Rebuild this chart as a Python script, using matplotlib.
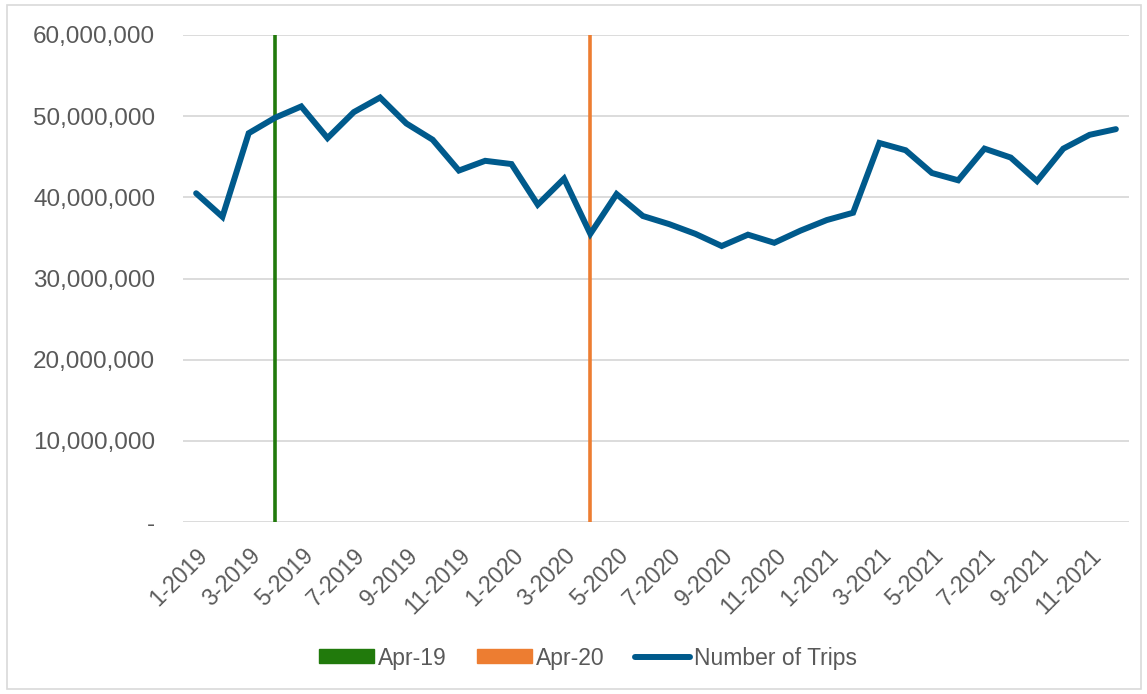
import matplotlib
matplotlib.use('Agg')
import matplotlib.pyplot as plt
import matplotlib.patches as mpatches
from matplotlib.lines import Line2D
from matplotlib.ticker import FuncFormatter

# ── data ──────────────────────────────────────────────────────────────────────
months = [f'{m}-{y}' for y in (2019, 2020, 2021) for m in range(1, 13)]
trips_m = [40.5, 37.6, 47.9, 49.8, 51.2, 47.3, 50.5, 52.3, 49.1, 47.1, 43.3, 44.5,
           44.1, 39.1, 42.3, 35.5, 40.4, 37.7, 36.7, 35.5, 34.0, 35.4, 34.4, 35.9,
           37.2, 38.1, 46.7, 45.8, 43.0, 42.1, 46.0, 44.9, 42.0, 46.0, 47.7, 48.4]
trips = [v * 1e6 for v in trips_m]
marker_months = ['4-2019', '4-2020']
marker_labels = ['Apr-19', 'Apr-20']
marker_colors = ['#217a0c', '#ed7d31']
y_max = 60_000_000

LINE_BLUE = '#005a8c'
TXT = '#595959'
GRID = '#d9d9d9'

plt.rcParams['font.family'] = ['Liberation Sans', 'DejaVu Sans']

# ── draw ──────────────────────────────────────────────────────────────────────
fig = plt.figure(figsize=(11.47, 6.94), dpi=100)
ax = fig.add_axes([183 / 1147, 1 - 522 / 694, (1129 - 183) / 1147, (522 - 35) / 694])

x = list(range(len(months)))
for name, col in zip(marker_months, marker_colors):
    xi = months.index(name)
    ax.vlines(xi, 0, y_max, color=col, linewidth=2.6, zorder=2)

ax.plot(x, trips, color=LINE_BLUE, linewidth=4.3, solid_capstyle='round',
        solid_joinstyle='miter', zorder=3)

ax.set_xlim(-0.5, len(months) - 0.5)
ax.set_ylim(0, y_max)
ax.set_yticks(range(0, y_max + 1, 10_000_000))
ax.yaxis.set_major_formatter(FuncFormatter(lambda v, p: '-' if v == 0 else f'{int(v):,}'))
ax.grid(axis='y', color=GRID, linewidth=1.3)
ax.set_axisbelow(True)
for s in ax.spines.values():
    s.set_visible(False)

ax.set_xticks(x[::2])
ax.set_xticklabels(months[::2], rotation=45, ha='right', rotation_mode='anchor')
ax.tick_params(axis='both', length=0, colors=TXT, labelsize=16.5)
ax.tick_params(axis='y', pad=20, labelsize=17.5)
ax.tick_params(axis='x', pad=16)

# outer chart border
fig.add_artist(mpatches.Rectangle((7 / 1147, 5 / 694), 1134 / 1147, 684 / 694,
                                  transform=fig.transFigure, fill=False,
                                  edgecolor=GRID, linewidth=1.2))

handles = [mpatches.Patch(color=c, label=l) for c, l in zip(marker_colors, marker_labels)]
handles.append(Line2D([], [], color=LINE_BLUE, linewidth=4.3, solid_capstyle='round',
                      label='Number of Trips'))
fig.legend(handles=handles, loc='center', bbox_to_anchor=(0.5126, 1 - 658 / 694),
           ncol=3, frameon=False, fontsize=16.5, labelcolor=TXT,
           handlelength=2.4, handleheight=0.55, handletextpad=0.2, columnspacing=1.3)

fig.savefig('out.png', dpi=100)
